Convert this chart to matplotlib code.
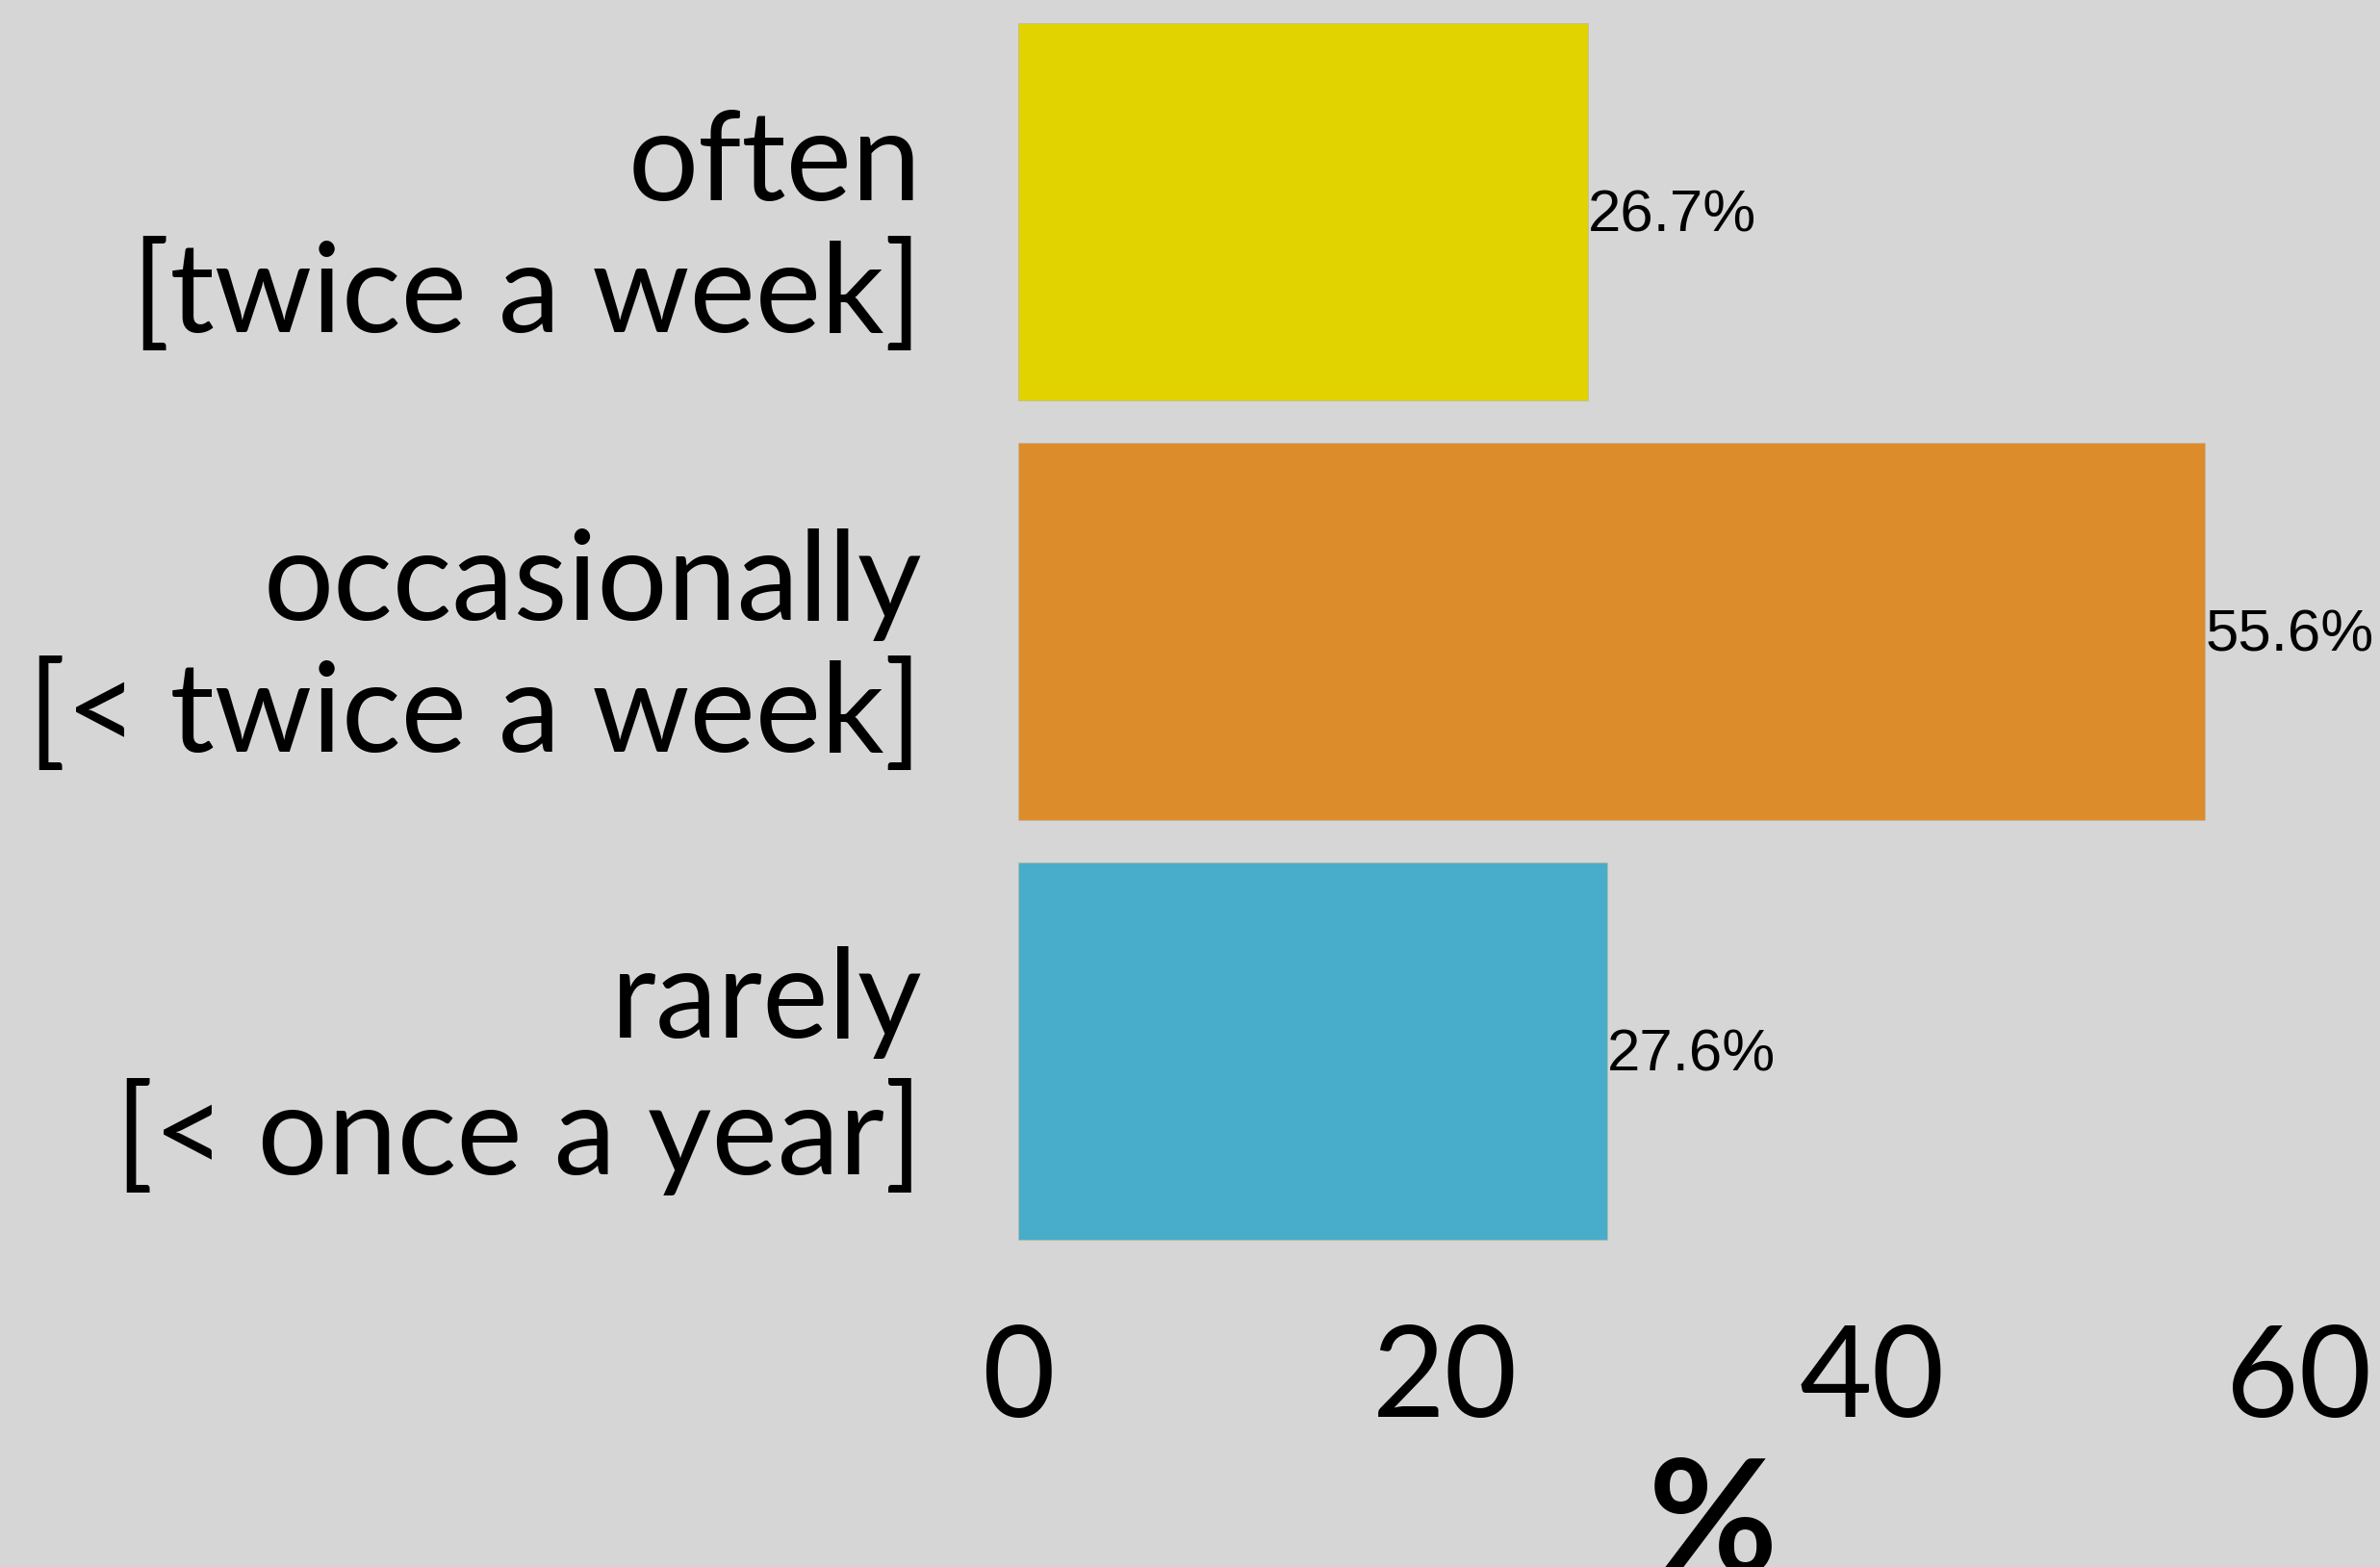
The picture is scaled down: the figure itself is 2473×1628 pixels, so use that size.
import matplotlib
matplotlib.use("Agg")
import matplotlib.pyplot as plt
from matplotlib.transforms import ScaledTranslation

categories = ["often\n[twice a week]", "occasionally\n[< twice a week]", "rarely\n[< once a year]"]
values = [26.7, 55.6, 27.6]
value_labels = ["26.7%", "55.6%", "27.6%"]
colors = ["#e1d300", "#dd8c2b", "#47adcb"]
xticks = [0, 20, 40, 60]

W, H = 2473, 1628
fig = plt.figure(figsize=(W / 100, H / 100), dpi=100)
bg = "#d6d6d6"
fig.patch.set_facecolor(bg)
left, right = 1058 / W, 2389 / W
top, bottom = 1 - 2 / H, 1 - 1310 / H
ax = fig.add_axes([left, bottom, right - left, top - bottom])
ax.set_facecolor(bg)

ypos = list(range(len(categories)))
ax.barh(ypos, values, height=0.9, color=colors, edgecolor="#c0b8a0", linewidth=0.5)
ax.set_ylim(len(categories) - 0.5, -0.5)
ax.set_xlim(0, 60)
ax.set_yticks(ypos)
ax.set_yticklabels(categories, fontsize=93, family="Lato", linespacing=1.19, ha="right")
ax.set_xticks(xticks)
ax.set_xticklabels([str(t) for t in xticks], fontsize=94, family="Lato")
ax.tick_params(axis="both", length=0)
ax.tick_params(axis="y", pad=72)
ax.tick_params(axis="x", pad=47)
for s in ax.spines.values():
    s.set_visible(False)

offset = ScaledTranslation(0, -5 / 100, fig.dpi_scale_trans)
for y, v, lab in zip(ypos, values, value_labels):
    ax.text(v, y, lab, ha="left", va="center", fontsize=44.5, family="Liberation Sans",
            clip_on=False, transform=ax.transData + offset)

ax.set_xlabel("%", fontsize=118, family="Lato", fontweight="bold")
ax.xaxis.set_label_coords((1780 - 1058) / (2389 - 1058), -0.155)

fig.savefig("out.png", dpi=100, facecolor=bg)
